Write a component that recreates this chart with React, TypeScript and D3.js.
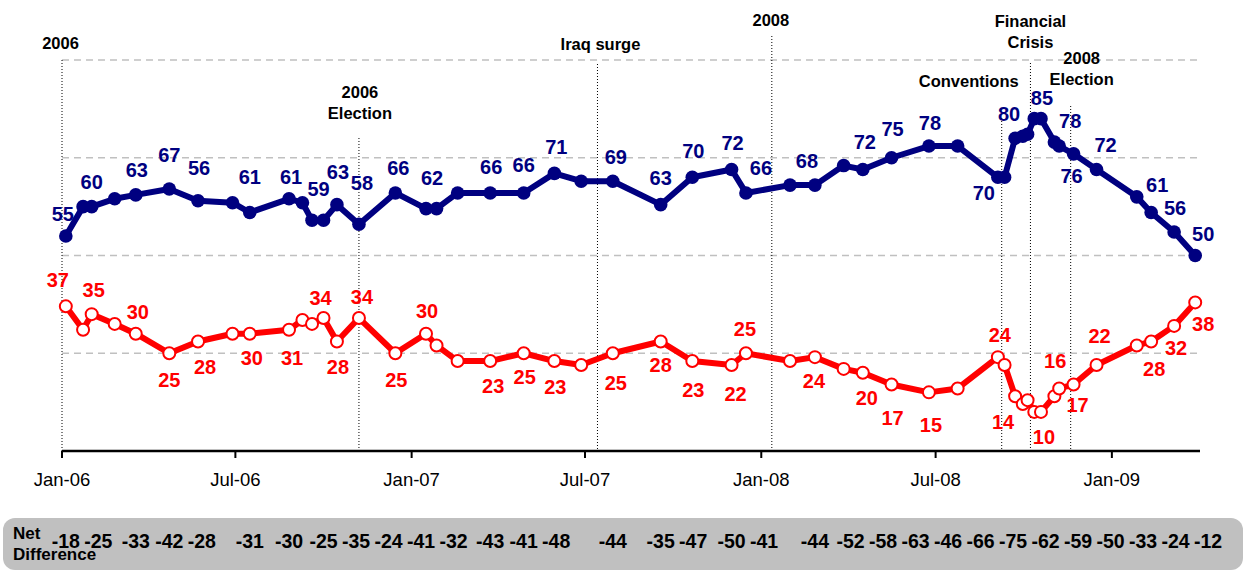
import React from "react";
import * as d3 from "d3";

// ---------- DATA ----------
const surveyDates = [
  "2006-01-05","2006-01-23","2006-02-01","2006-02-25","2006-03-19","2006-04-23","2006-05-23","2006-06-28",
  "2006-07-16","2006-08-26","2006-09-09","2006-09-19","2006-10-01","2006-10-15","2006-11-07","2006-12-15",
  "2007-01-16","2007-01-27","2007-02-18","2007-03-24","2007-04-28","2007-05-30","2007-06-27","2007-07-30",
  "2007-09-18","2007-10-21","2007-12-01","2007-12-16","2008-01-31","2008-02-26","2008-03-27","2008-04-16",
  "2008-05-16","2008-06-24","2008-07-24","2008-09-04","2008-09-11","2008-09-22","2008-09-30","2008-10-05",
  "2008-10-12","2008-10-19","2008-11-02","2008-11-07","2008-11-22","2008-12-16","2009-01-27","2009-02-11",
  "2009-03-07","2009-03-29"
];

const blueValues = [
  55, 62.5, 62.5, 64.5, 65.5, 67, 64, 63.5, 61, 64.5, 63.5, 59, 59, 63, 58, 66,
  62, 62, 66, 66, 66, 71, 69, 69, 63, 70, 72, 66, 68, 68, 73, 72,
  75, 78, 78, 70, 70, 80, 80.5, 81, 85, 85, 79, 78, 76, 72, 65, 61, 56, 50
];

const redValues = [
  37, 31, 35, 32.5, 30, 25, 28, 30, 30, 31, 33.5, 32.5, 34, 28, 34, 25,
  30, 27, 23, 23, 25, 23, 22, 25, 28, 23, 22, 25, 23, 24, 21, 20,
  17, 15, 16, 24, 22, 14, 12, 13, 10, 10, 14, 16, 17, 22, 27, 28, 32, 38
];

// survey numbers (1-based) that carry printed labels and a net difference
const labeledSurveys = [1,3,5,6,7,9,10,13,14,15,16,17,20,21,22,24,25,26,27,28,30,32,33,34,36,38,42,44,45,46,48,49,50];
const blueLabels = [55,60,63,67,56,61,61,59,63,58,66,62,66,66,71,69,63,70,72,66,68,72,75,78,70,80,85,78,76,72,61,56,50];
const redLabels = [37,35,30,25,28,30,31,34,28,34,25,30,23,25,23,25,28,23,22,25,24,20,17,15,24,14,10,16,17,22,28,32,38];
const netDifference = [-18,-25,-33,-42,-28,-31,-30,-25,-35,-24,-41,-32,-43,-41,-48,-44,-35,-47,-50,-41,-44,-52,-58,-63,-46,-66,-75,-62,-59,-50,-33,-24,-12];

const tickDates = ["2006-01-01","2006-07-01","2007-01-01","2007-07-01","2008-01-01","2008-07-01","2009-01-01"];
const tickLabels = ["Jan-06","Jul-06","Jan-07","Jul-07","Jan-08","Jul-08","Jan-09"];

const eventDates = ["2006-01-01","2006-11-07","2007-07-14","2008-01-12","2008-09-08","2008-10-08","2008-11-19"];
const eventLabels = [["2006"],["2006","Election"],["Iraq surge"],["2008"],["Conventions"],["Financial","Crisis"],["2008","Election"]];

const gridValues = [25, 50, 75, 100];

// ---------- STYLE / LAYOUT ----------
const W = 1246, H = 571;
const X0 = 62, X1 = 1200, Y0 = 451, Y100 = 60;
const BLUE = "#000080", RED = "#ff0000";
const FONT = "'Liberation Sans', Arial, Helvetica, sans-serif";

const blueLabelOffsets: [number, number][] = [
  [-3,-22],[0,-25],[1,-25],[0,-34],[1,-33],[0,-35],[2,-22],[-5,-31],[1,-33],[3,-41],[3,-25],[6,-31],
  [1,-26],[0,-28],[2,-26],[3,-24],[0,-27],[1,-26],[1,-26],[15,-25],[-8,-24],[2,-27],[1,-29],[1,-23],
  [-14,16],[-6,-24],[1,-21],[11,-25],[-2,22],[9,-24],[6,-27],[1,-24],[8,-22]
];
const redLabelOffsets: [number, number][] = [
  [-8,-26],[2,-24],[2,-22],[0,27],[7,25],[2,24],[3,28],[-3,-20],[1,25],[3,-21],[1,27],[1,-23],
  [3,25],[1,24],[1,26],[3,30],[0,23],[1,29],[4,29],[-1,-24],[-1,24],[4,25],[1,33],[2,33],
  [2,-22],[-12,26],[3,25],[-4,-27],[4,20],[3,-29],[3,27],[2,22],[8,22]
];
// event line top (px), label dx from line, first label line centre y
const eventStyle = [
  { top: 60, dx: -1.5, y: 43 },
  { top: 138, dx: 1, y: 92 },
  { top: 64, dx: 3, y: 44 },
  { top: 36, dx: -1, y: 20 },
  { top: 118, dx: -33, y: 81 },
  { top: 63, dx: 0, y: 21 },
  { top: 106, dx: 11, y: 58 },
];

const parse = d3.utcParse("%Y-%m-%d");

export default function App() {
  const x = d3.scaleUtc().domain([parse("2006-01-01")!, parse("2009-04-03")!]).range([X0, X1]);
  const y = d3.scaleLinear().domain([0, 100]).range([Y0, Y100]);

  const pts = surveyDates.map((d) => parse(d)!);
  const blue = pts.map((d, i) => ({ d, v: blueValues[i] }));
  const red = pts.map((d, i) => ({ d, v: redValues[i] }));
  const line = d3.line<{ d: Date; v: number }>().x((p) => x(p.d)).y((p) => y(p.v));

  // net difference row: place at survey x, resolve overlaps
  const minSep = 32.5;
  const rightLimit = X1 + 8;
  const netX = labeledSurveys.map((s) => x(pts[s - 1]));
  for (let i = 1; i < netX.length; i++) netX[i] = Math.max(netX[i], netX[i - 1] + minSep);
  netX[netX.length - 1] = Math.min(netX[netX.length - 1], rightLimit);
  for (let i = netX.length - 2; i >= 0; i--) netX[i] = Math.min(netX[i], netX[i + 1] - minSep);

  return (
    <svg width={W} height={H} style={{ position: "absolute", left: 0, top: 0, background: "#fff" }} fontFamily={FONT}>
      {/* gridlines */}
      {gridValues.map((g) => (
        <line key={g} x1={X0} x2={X1} y1={y(g)} y2={y(g)} stroke="#c0c0c0" strokeWidth={1.5} strokeDasharray="7,5" />
      ))}
      {/* event lines */}
      {eventDates.map((d, i) => {
        const ex = x(parse(d)!);
        const st = eventStyle[i];
        return (
          <g key={d}>
            <line x1={ex} x2={ex} y1={st.top} y2={Y0} stroke="#000" strokeWidth={1} strokeDasharray="1,2" />
            {eventLabels[i].map((t, j) => (
              <text key={j} x={ex + st.dx} y={st.y + j * 21} dy="0.35em" textAnchor="middle" fontSize={16.5} fontWeight="bold" fill="#000">
                {t}
              </text>
            ))}
          </g>
        );
      })}
      {/* x axis */}
      <line x1={X0} x2={X1} y1={Y0} y2={Y0} stroke="#000" strokeWidth={2.5} />
      {tickDates.map((d, i) => {
        const tx = x(parse(d)!);
        return (
          <g key={d}>
            <line x1={tx} x2={tx} y1={Y0} y2={Y0 + 7} stroke="#000" strokeWidth={2} />
            <text x={tx} y={Y0 + 29} dy="0.35em" textAnchor="middle" fontSize={18.5} fill="#000">
              {tickLabels[i]}
            </text>
          </g>
        );
      })}
      {/* series lines */}
      <path d={line(red)!} fill="none" stroke={RED} strokeWidth={6} strokeLinejoin="round" />
      <path d={line(blue)!} fill="none" stroke={BLUE} strokeWidth={6} strokeLinejoin="round" />
      {red.map((p, i) => (
        <circle key={"r" + i} cx={x(p.d)} cy={y(p.v)} r={6} fill="#fff" stroke={RED} strokeWidth={2} />
      ))}
      {blue.map((p, i) => (
        <circle key={"b" + i} cx={x(p.d)} cy={y(p.v)} r={6.8} fill={BLUE} />
      ))}
      {/* data labels */}
      {labeledSurveys.map((s, k) => {
        const p = blue[s - 1];
        const [dx, dy] = blueLabelOffsets[k];
        return (
          <text key={"bl" + k} x={x(p.d) + dx} y={y(p.v) + dy} dy="0.35em" textAnchor="middle" fontSize={20} fontWeight="bold" fill={BLUE}>
            {blueLabels[k]}
          </text>
        );
      })}
      {labeledSurveys.map((s, k) => {
        const p = red[s - 1];
        const [dx, dy] = redLabelOffsets[k];
        return (
          <text key={"rl" + k} x={x(p.d) + dx} y={y(p.v) + dy} dy="0.35em" textAnchor="middle" fontSize={20} fontWeight="bold" fill={RED}>
            {redLabels[k]}
          </text>
        );
      })}
      {/* net difference bar */}
      <rect x={3} y={518} width={1240} height={52} rx={12} ry={12} fill="#c0c0c0" />
      <text x={13} y={539} fontSize={17} fontWeight="bold" fill="#000">Net</text>
      <text x={13} y={560} fontSize={17} fontWeight="bold" fill="#000">Difference</text>
      {netDifference.map((n, k) => (
        <text key={"n" + k} x={netX[k]} y={547.5} textAnchor="middle" fontSize={19.5} fontWeight="bold" fill="#000">
          {n}
        </text>
      ))}
    </svg>
  );
}
